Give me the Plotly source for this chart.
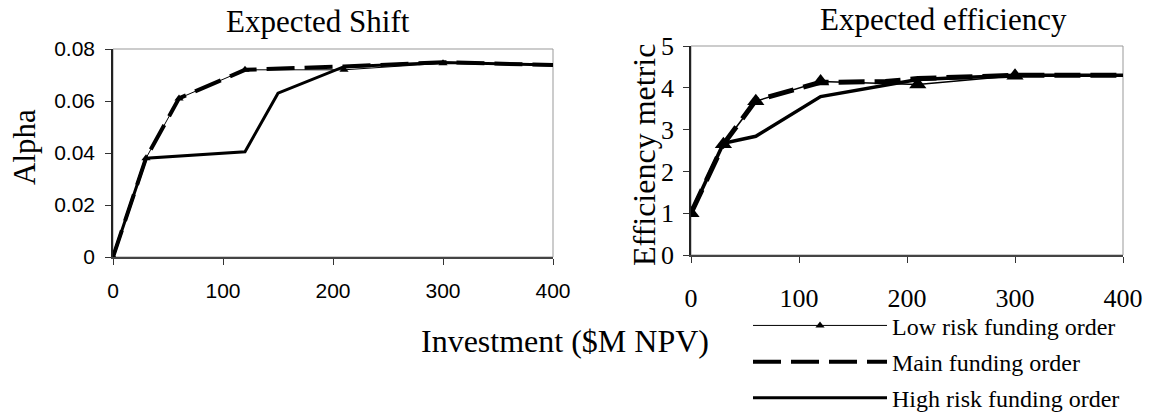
import plotly.graph_objects as go

# Expected Shift (Alpha) by investment level
shift_x_low = [0, 30, 60, 120, 210, 300]
shift_low = [0.0, 0.038, 0.061, 0.072, 0.072, 0.0745]
shift_x_main = [0, 30, 60, 120, 210, 300, 400]
shift_main = [0.0, 0.038, 0.061, 0.072, 0.0733, 0.0749, 0.0738]
shift_x_high = [0, 30, 120, 150, 210, 300, 400]
shift_high = [0.0, 0.038, 0.0405, 0.063, 0.0732, 0.0748, 0.0738]

# Expected efficiency metric by investment level
eff_x_low = [0, 30, 60, 120, 210, 300]
eff_low = [1.0, 2.65, 3.68, 4.15, 4.08, 4.29]
eff_x_main = [0, 30, 60, 120, 180, 210, 300, 400]
eff_main = [1.0, 2.65, 3.7, 4.13, 4.15, 4.22, 4.3, 4.3]
eff_x_high = [0, 30, 60, 120, 210, 300, 400]
eff_high = [1.0, 2.67, 2.84, 3.79, 4.2, 4.3, 4.3]

x_ticks = [0, 100, 200, 300, 400]
shift_ticks = [0, 0.02, 0.04, 0.06, 0.08]
shift_labels = ["0", "0.02", "0.04", "0.06", "0.08"]
eff_ticks = [0, 1, 2, 3, 4, 5]

names = ["Low risk funding order", "Main funding order", "High risk funding order"]

W, H = 1152, 417
SERIF = "Liberation Serif, Times New Roman, serif"
SANS = "Liberation Sans, Arial, sans-serif"

fig = go.Figure()

# Left panel
fig.add_trace(go.Scatter(x=shift_x_low, y=shift_low, name=names[0], mode="lines+markers",
                         line=dict(color="black", width=1),
                         marker=dict(symbol="triangle-up", size=8, color="black"),
                         xaxis="x", yaxis="y", legendgroup="a"))
fig.add_trace(go.Scatter(x=shift_x_main, y=shift_main, name=names[1], mode="lines",
                         line=dict(color="black", width=4, dash="28px,10px"),
                         xaxis="x", yaxis="y", legendgroup="b"))
fig.add_trace(go.Scatter(x=shift_x_high, y=shift_high, name=names[2], mode="lines",
                         line=dict(color="black", width=3),
                         xaxis="x", yaxis="y", legendgroup="c"))

# Right panel
fig.add_trace(go.Scatter(x=eff_x_low, y=eff_low, name=names[0], mode="lines+markers",
                         line=dict(color="black", width=1.5),
                         marker=dict(symbol="triangle-up", size=15, color="black"),
                         xaxis="x2", yaxis="y2", showlegend=False))
fig.add_trace(go.Scatter(x=eff_x_main, y=eff_main, name=names[1], mode="lines",
                         line=dict(color="black", width=5, dash="26px,10px"),
                         xaxis="x2", yaxis="y2", showlegend=False))
fig.add_trace(go.Scatter(x=eff_x_high, y=eff_high, name=names[2], mode="lines",
                         line=dict(color="black", width=3.5),
                         xaxis="x2", yaxis="y2", showlegend=False))

L = dict(x0=113, x1=553, y0=49, y1=257)
R = dict(x0=691, x1=1123, y0=46, y1=255)

def xdom(p):
    return [p["x0"] / W, p["x1"] / W]

def ydom(p):
    return [1 - p["y1"] / H, 1 - p["y0"] / H]

axis_common = dict(showgrid=False, zeroline=False, showline=True, ticks="outside",
                   ticklen=6, tickwidth=1, tickcolor="#333", automargin=False)

fig.update_layout(
    width=W, height=H,
    margin=dict(l=0, r=0, t=0, b=0, autoexpand=False),
    paper_bgcolor="white", plot_bgcolor="white",
    xaxis=dict(domain=xdom(L), range=[0, 400], tickvals=x_ticks, anchor="y",
               linecolor="#444", linewidth=1.5, ticklabelstandoff=8,
               tickfont=dict(family=SANS, size=21, color="black"), **axis_common),
    yaxis=dict(domain=ydom(L), range=[0, 0.08], tickvals=shift_ticks,
               ticktext=shift_labels, anchor="x",
               linecolor="#222", linewidth=1.5, ticklabelstandoff=6,
               tickfont=dict(family=SANS, size=21, color="black"), **axis_common),
    xaxis2=dict(domain=xdom(R), range=[0, 400], tickvals=x_ticks, anchor="y2",
                linecolor="#444", linewidth=1.5, ticklabelstandoff=13,
                tickfont=dict(family=SERIF, size=26, color="black"), **axis_common),
    yaxis2=dict(domain=ydom(R), range=[0, 5], tickvals=eff_ticks, anchor="x2",
                linecolor="#222", linewidth=1.5, ticklabelstandoff=4,
                tickfont=dict(family=SERIF, size=26, color="black"), **axis_common),
    showlegend=True,
    legend=dict(x=748 / W, y=-0.008, xanchor="left", yanchor="bottom",
                font=dict(family=SERIF, size=24, color="black"),
                itemwidth=134, tracegroupgap=2, bgcolor="rgba(0,0,0,0)"),
)

# Plot-area frames (top and right edges in grey)
for xr, yr in (("x domain", "y domain"), ("x2 domain", "y2 domain")):
    fig.add_shape(type="rect", xref=xr, yref=yr, x0=0, x1=1, y0=0, y1=1,
                  line=dict(color="#999", width=1), layer="below")

def note(text, x, y, size, angle=0):
    fig.add_annotation(text=text, x=x / W, y=1 - y / H, xref="paper", yref="paper",
                       showarrow=False, textangle=angle, xanchor="center", yanchor="middle",
                       font=dict(family=SERIF, size=size, color="black"))

note("Expected Shift", 318, 21, 31)
note("Expected efficiency", 943, 19, 31)
note("Alpha", 24, 147, 31, -90)
note("Efficiency metric", 644, 155, 32, -90)
note("Investment ($M NPV)", 565, 341, 32)

fig.write_html("out.html")
